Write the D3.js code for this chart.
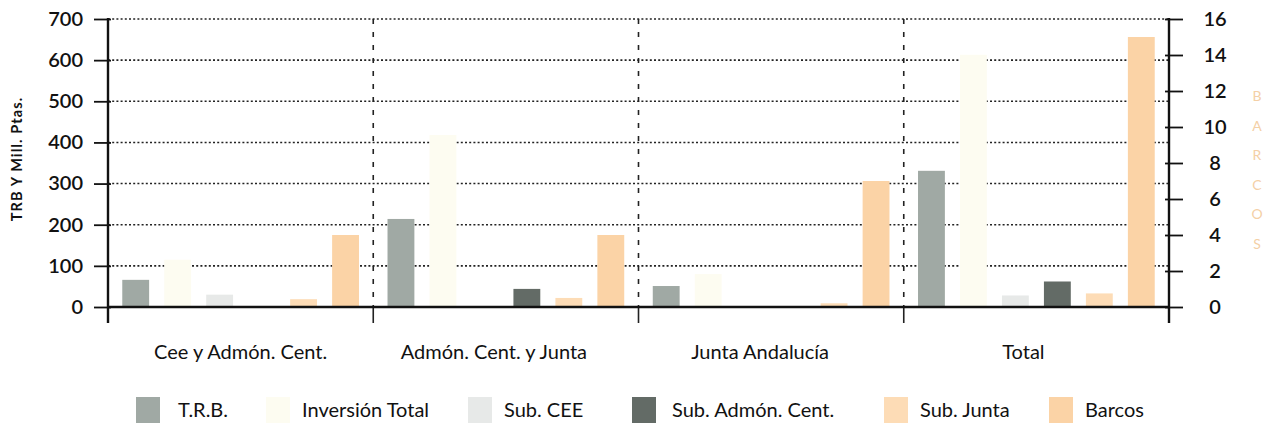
<!DOCTYPE html>
<html>
<head>
<meta charset="utf-8">
<script src="https://cdn.jsdelivr.net/npm/d3@7"></script>
<style>
  html, body { margin: 0; padding: 0; background: #fff; }
  svg { display: block; }
  text { font-family: Lato, "Open Sans", sans-serif; fill: #111; }
</style>
</head>
<body>
<svg id="chart" width="1267" height="423"></svg>
<script>
// Categories along the x axis
const categories = ["Cee y Admón. Cent.", "Admón. Cent. y Junta", "Junta Andalucía", "Total"];

// Series names (legend order)
const seriesNames = ["T.R.B.", "Inversión Total", "Sub. CEE", "Sub. Admón. Cent.", "Sub. Junta", "Barcos"];

// Values in millions of pesetas (left axis)
const trb       = [66, 214, 51, 331];
const inversion = [115, 418, 80, 613];
const subCEE    = [30, 0, 0, 28];
const subAdmon  = [0, 44, 0, 62];
const subJunta  = [19, 22, 9, 33];
// Number of boats (right axis)
const barcos    = [4, 4, 7, 15];

// Axis ticks
const leftTicks  = [0, 100, 200, 300, 400, 500, 600, 700];
const rightTicks = [0, 2, 4, 6, 8, 10, 12, 14, 16];

const seriesValues = [trb, inversion, subCEE, subAdmon, subJunta, barcos];
const seriesColors = ["#a0a9a4", "#fdfcf1", "#e7e9e8", "#636b66", "#fddcb6", "#fbd3a6"];
const rightAxisSeries = "Barcos";

const svg = d3.select("#chart");

const plotLeft = 108, plotRight = 1169, plotTop = 19, plotBottom = 307;

const x0 = d3.scaleBand().domain(categories).range([plotLeft, plotRight]);
const x1 = d3.scaleBand().domain(seriesNames).range([0, x0.bandwidth()])
  .paddingInner(0.36).paddingOuter(0.34);
const yL = d3.scaleLinear().domain([0, 700]).range([plotBottom, plotTop]);
const yR = d3.scaleLinear().domain([0, 16]).range([plotBottom, plotTop]);

// Dotted horizontal grid lines
svg.append("g").selectAll("line")
  .data(leftTicks.filter(d => d > 0))
  .join("line")
  .attr("x1", plotLeft).attr("x2", plotRight)
  .attr("y1", d => yL(d)).attr("y2", d => yL(d))
  .attr("stroke", "#222").attr("stroke-width", 1.6)
  .attr("stroke-dasharray", "2,2.2");

// Dashed category separators
const seps = categories.slice(1).map(c => x0(c));
svg.append("g").selectAll("line")
  .data(seps)
  .join("line")
  .attr("x1", d => d).attr("x2", d => d)
  .attr("y1", plotTop).attr("y2", plotBottom)
  .attr("stroke", "#222").attr("stroke-width", 1.6)
  .attr("stroke-dasharray", "5,8");

// Category ticks below the baseline
svg.append("g").selectAll("line")
  .data(seps)
  .join("line")
  .attr("x1", d => d).attr("x2", d => d)
  .attr("y1", plotBottom).attr("y2", 323)
  .attr("stroke", "#222").attr("stroke-width", 1.6);

// Bars
const rows = [];
categories.forEach((c, i) => {
  seriesNames.forEach((s, j) => {
    rows.push({ cat: c, series: s, value: seriesValues[j][i], color: seriesColors[j] });
  });
});
const yFor = d => (d.series === rightAxisSeries ? yR : yL);
svg.append("g").selectAll("rect")
  .data(rows.filter(d => d.value > 0))
  .join("rect")
  .attr("x", d => x0(d.cat) + x1(d.series))
  .attr("width", x1.bandwidth())
  .attr("y", d => yFor(d)(d.value))
  .attr("height", d => plotBottom - yFor(d)(d.value))
  .attr("fill", d => d.color);

// Left axis
const axL = d3.axisLeft(yL).tickValues(leftTicks).tickSize(14).tickPadding(11);
const gL = svg.append("g").attr("transform", `translate(${plotLeft},0)`).call(axL);
gL.select(".domain").remove();
gL.selectAll(".tick line").attr("stroke", "#111").attr("stroke-width", 1.8).attr("x2", -14).attr("x1", 3);
gL.selectAll(".tick text").attr("font-size", 20).attr("font-weight", 600)
  .attr("font-family", "Lato, sans-serif").attr("fill", "#111");

// Right axis
const axR = d3.axisRight(yR).tickValues(rightTicks).tickSize(14).tickPadding(0);
const gR = svg.append("g").attr("transform", `translate(${plotRight},0)`).call(axR);
gR.select(".domain").remove();
gR.selectAll(".tick line").attr("stroke", "#111").attr("stroke-width", 1.8).attr("x1", -4).attr("x2", 14);
gR.selectAll(".tick text").attr("x", 46).attr("text-anchor", "middle")
  .attr("font-size", 20).attr("font-weight", 600)
  .attr("font-family", "Lato, sans-serif").attr("fill", "#111");

// Axis lines
svg.append("line").attr("x1", plotLeft).attr("x2", plotLeft).attr("y1", plotTop - 1).attr("y2", 323)
  .attr("stroke", "#111").attr("stroke-width", 2.4);
svg.append("line").attr("x1", plotRight).attr("x2", plotRight).attr("y1", plotTop - 1).attr("y2", 323)
  .attr("stroke", "#111").attr("stroke-width", 2.4);
svg.append("line").attr("x1", plotLeft).attr("x2", plotRight).attr("y1", plotBottom).attr("y2", plotBottom)
  .attr("stroke", "#111").attr("stroke-width", 2.4);

// Category labels (slightly left of band centre, as typeset)
const labelShift = [0, -12, -11, -13];
svg.append("g").selectAll("text")
  .data(categories)
  .join("text")
  .attr("x", (d, i) => x0(d) + x0.bandwidth() / 2 + labelShift[i])
  .attr("y", 359)
  .attr("text-anchor", "middle")
  .attr("font-size", 20)
  .text(d => d);

// Left axis title
svg.append("text")
  .attr("transform", "translate(22,159) rotate(-90)")
  .attr("text-anchor", "middle")
  .attr("font-size", 14.5)
  .attr("font-weight", 700)
  .attr("letter-spacing", 1.1)
  .text("TRB Y Mill. Ptas.");

// Right axis title, stacked letters
svg.append("g").selectAll("text")
  .data("BARCOS".split(""))
  .join("text")
  .attr("x", 1257)
  .attr("y", (d, i) => 101 + i * 29.5)
  .attr("text-anchor", "middle")
  .attr("font-size", 14)
  .style("fill", "#f4d0a6")
  .text(d => d);

// Legend
const legendX = [136, 266, 468, 632, 884, 1049];
const legend = svg.append("g").selectAll("g")
  .data(seriesNames)
  .join("g")
  .attr("transform", (d, i) => `translate(${legendX[i]},0)`);
legend.append("rect")
  .attr("x", 0).attr("y", 397).attr("width", 24).attr("height", 26)
  .attr("fill", (d, i) => seriesColors[i]);
legend.append("text")
  .attr("x", (d, i) => i === 0 ? 42 : (i === 3 ? 40 : 36))
  .attr("y", 417)
  .attr("font-size", 20)
  .text(d => d);
</script>
</body>
</html>
